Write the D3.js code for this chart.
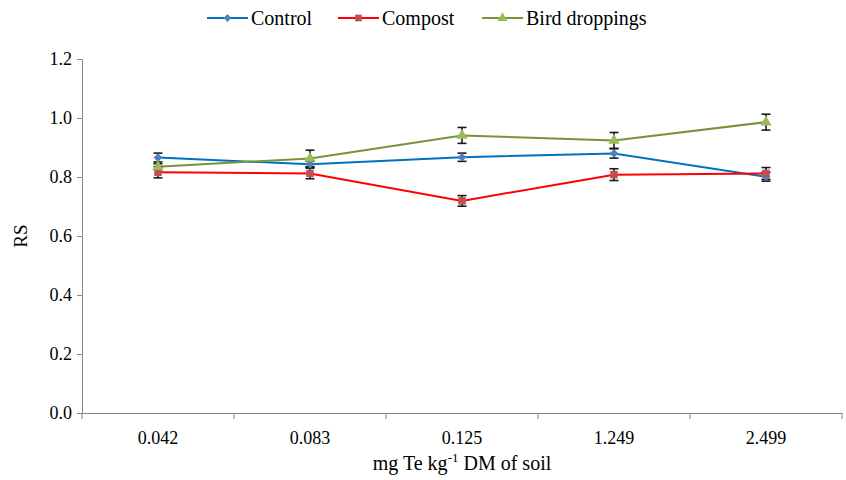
<!DOCTYPE html>
<html>
<head>
<meta charset="utf-8">
<script src="https://cdn.jsdelivr.net/npm/d3@7"></script>
<style>
  body { margin: 0; background: #fff; }
</style>
</head>
<body>
<svg width="846" height="480" font-family="Liberation Serif, DejaVu Serif, serif"></svg>
<script>
var doses = ['0.042', '0.083', '0.125', '1.249', '2.499'];

var control = [0.866, 0.843, 0.867, 0.880, 0.801];
var compost = [0.816, 0.812, 0.719, 0.808, 0.812];
var bird = [0.835, 0.863, 0.941, 0.924, 0.986];

var controlErr = [0.015, 0.010, 0.014, 0.016, 0.015];
var compostErr = [0.019, 0.018, 0.018, 0.020, 0.020];
var birdErr = [0.010, 0.028, 0.027, 0.027, 0.027];

var yTicks = [0, 0.2, 0.4, 0.6, 0.8, 1.0, 1.2];

// diamond drawn as a square turned 45 degrees, like the spreadsheet marker
var series = [
  {name: 'Control', values: control, err: controlErr, line: '#0070C0', fill: '#4F81BD', shape: d3.symbolSquare, size: 38, rot: 45},
  {name: 'Compost', values: compost, err: compostErr, line: '#FF0000', fill: '#C0504D', shape: d3.symbolSquare, size: 56, rot: 0},
  {name: 'Bird droppings', values: bird, err: birdErr, line: '#77933C', fill: '#9BBB59', shape: d3.symbolTriangle, size: 55, rot: 0}
];

var font = 'Liberation Serif, DejaVu Serif, serif';
var svg = d3.select('svg');
var plotLeft = 82, plotRight = 842, plotTop = 59, plotBottom = 413;

var x = d3.scaleBand().domain(doses).range([plotLeft, plotRight]);
var y = d3.scaleLinear().domain([0, 1.2]).range([plotBottom, plotTop]);
var axisColor = '#868686';

// y axis
var yAxis = svg.append('g')
   .attr('transform', 'translate(' + plotLeft + ',0)')
   .call(d3.axisLeft(y).tickValues(yTicks).tickSize(5).tickFormat(d3.format('.1f')));
yAxis.attr('font-family', font);
yAxis.select('.domain').attr('stroke', axisColor);
yAxis.selectAll('.tick line').attr('stroke', axisColor);
yAxis.selectAll('.tick text')
   .attr('fill', '#000')
   .attr('font-family', font)
   .attr('font-size', 18)
   .attr('x', -10);

// x axis: ticks on category boundaries
var xAxis = svg.append('g')
   .attr('transform', 'translate(0,' + plotBottom + ')')
   .call(d3.axisBottom(x).tickSize(0).tickPadding(18));
xAxis.attr('font-family', font);
xAxis.select('.domain').attr('stroke', axisColor);
xAxis.selectAll('.tick text')
   .attr('fill', '#000')
   .attr('font-family', font)
   .attr('font-size', 18);
var bounds = doses.map(function (d) { return x(d); }).concat([x(doses[doses.length - 1]) + x.bandwidth()]);
svg.append('g').selectAll('line')
   .data(bounds)
   .enter()
   .append('line')
   .attr('x1', function (d) { return d; })
   .attr('x2', function (d) { return d; })
   .attr('y1', plotBottom)
   .attr('y2', plotBottom + 6)
   .attr('stroke', axisColor);

// axis titles
svg.append('text')
   .attr('transform', 'translate(27,' + ((plotTop + plotBottom) / 2) + ') rotate(-90)')
   .attr('text-anchor', 'middle')
   .attr('font-family', font)
   .attr('font-size', 19)
   .text('RS');

var xt = svg.append('text')
   .attr('x', (plotLeft + plotRight) / 2)
   .attr('y', 470)
   .attr('text-anchor', 'middle')
   .attr('font-family', font)
   .attr('font-size', 20);
xt.append('tspan').text('mg Te kg');
xt.append('tspan').attr('font-size', 13).attr('dy', -8).text('-1');
xt.append('tspan').attr('dy', 8).text(' DM of soil');

var cx = function (i) { return x(doses[i]) + x.bandwidth() / 2; };

var line = d3.line()
   .x(function (d, i) { return cx(i); })
   .y(function (d) { return y(d); });

series.forEach(function (s) {
  svg.append('path')
     .datum(s.values)
     .attr('fill', 'none')
     .attr('stroke', s.line)
     .attr('stroke-width', 2)
     .attr('d', line);
});

// error bars
series.forEach(function (s) {
  var g = svg.append('g').attr('stroke', '#1a1a1a').attr('stroke-width', 1.6);
  s.values.forEach(function (v, i) {
    var px = cx(i), y1 = y(v + s.err[i]), y2 = y(v - s.err[i]);
    g.append('line').attr('x1', px).attr('x2', px).attr('y1', y1).attr('y2', y2);
    g.append('line').attr('x1', px - 4.5).attr('x2', px + 4.5).attr('y1', y1).attr('y2', y1);
    g.append('line').attr('x1', px - 4.5).attr('x2', px + 4.5).attr('y1', y2).attr('y2', y2);
  });
});

// markers
series.forEach(function (s) {
  svg.append('g').selectAll('path')
     .data(s.values)
     .enter()
     .append('path')
     .attr('d', d3.symbol().type(s.shape).size(s.size))
     .attr('transform', function (d, i) { return 'translate(' + cx(i) + ',' + y(d) + ') rotate(' + s.rot + ')'; })
     .attr('fill', s.fill);
});

// legend
var legendX = [207, 338, 482];
series.forEach(function (s, i) {
  var g = svg.append('g').attr('transform', 'translate(' + legendX[i] + ',18)');
  g.append('line').attr('x1', 0).attr('x2', 41).attr('stroke', s.line).attr('stroke-width', 2);
  g.append('path')
   .attr('d', d3.symbol().type(s.shape).size(s.size * 0.8))
   .attr('transform', 'translate(20.5,0) rotate(' + s.rot + ')')
   .attr('fill', s.fill);
  g.append('text')
   .attr('x', 44)
   .attr('y', 7)
   .attr('font-family', font)
   .attr('font-size', 20)
   .text(s.name);
});
</script>
</body>
</html>
